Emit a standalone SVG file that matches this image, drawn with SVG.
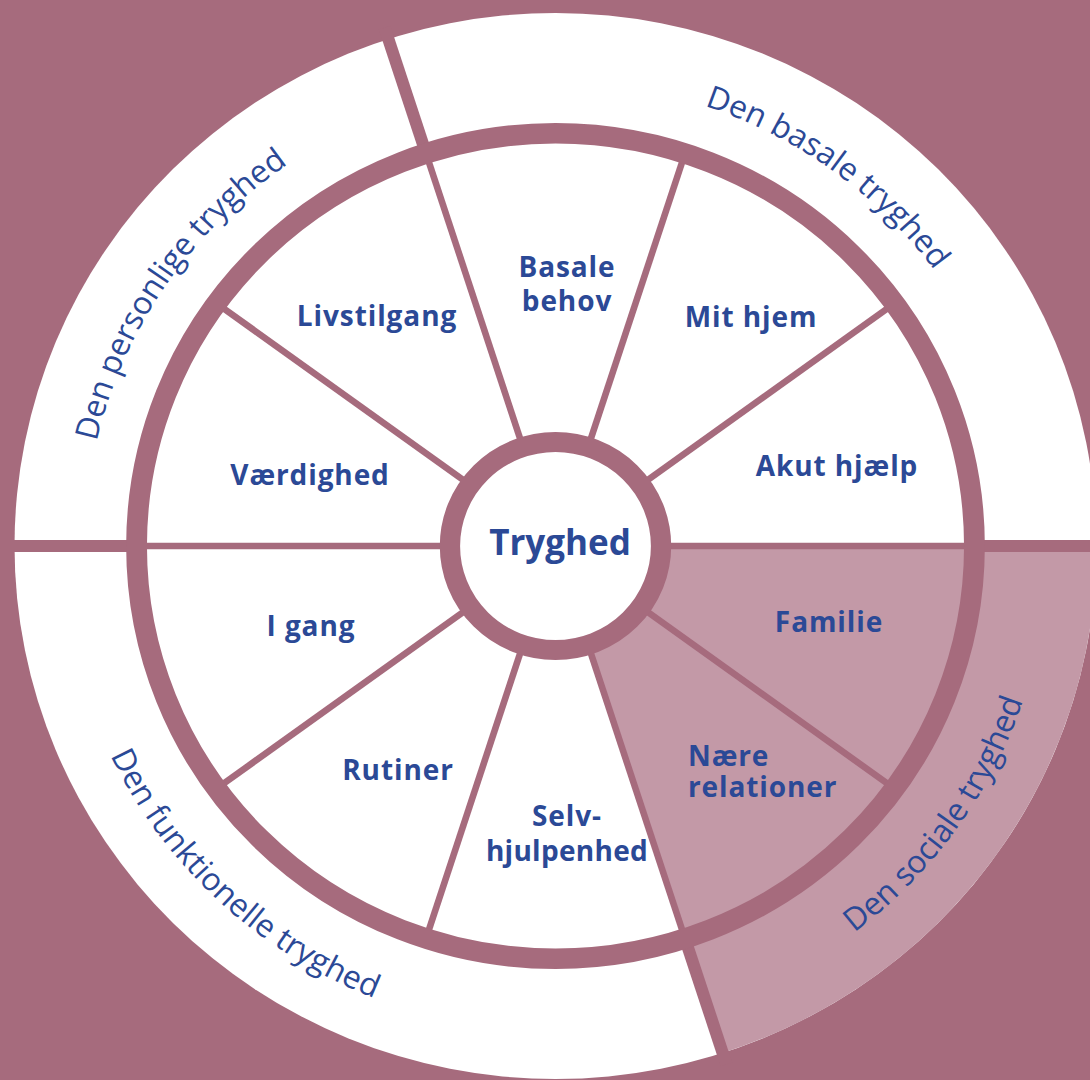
<svg xmlns="http://www.w3.org/2000/svg" width="1090" height="1080" viewBox="0 0 1090 1080">
  <style>
    .bg { fill: #a66b7d; }
    .line { stroke: #a66b7d; fill: none; }
    .spoke { stroke-width: 6.5; }
    .divider { stroke-width: 12; }
    .lbl { font-family: "Open Sans", "Noto Sans", "Liberation Sans", sans-serif; font-weight: 700; font-size: 28px; letter-spacing: 0.9px; fill: #2b4996; text-anchor: middle; }
    .ring-lbl { font-family: "Open Sans", "Noto Sans", "Liberation Sans", sans-serif; font-weight: 400; font-size: 31.5px; fill: #2b4996; text-anchor: middle; }
  </style>
  <defs>
    <!-- baseline arcs for the outer ring labels (wheel-local coordinates) -->
    <path id="arc-basal" d="M -143.38,-441.29 A 464,464 0 0 1 464,0"/>
    <path id="arc-personal" d="M -464,0 A 464,464 0 0 1 -143.38,-441.29"/>
    <path id="arc-social" d="M 150.18,462.21 A 486,486 0 0 0 486,0"/>
    <path id="arc-functional" d="M -486,0 A 486,486 0 0 0 150.18,462.21"/>
  </defs>

  <rect class="bg" x="0" y="0" width="1090" height="1080"/>

  <g id="wheel" transform="translate(555.5,546) scale(1.015,1)">
    <!-- outer ring disc -->
    <circle cx="0" cy="0" r="533" fill="#ffffff"/>
    <!-- highlighted social sector (0°–72°) -->
    <path id="social-sector" d="M 0,0 L 533,0 A 533,533 0 0 1 164.71,506.91 Z" fill="#c399a7"/>

    <g id="connectors" class="line">
      <!-- spokes of the inner wheel every 36° -->
      <line class="spoke" x1="104" y1="0" x2="412" y2="0"/>
      <line class="spoke" x1="84.14" y1="61.13" x2="333.31" y2="242.17"/>
      <line class="spoke" x1="32.14" y1="98.91" x2="127.31" y2="391.84"/>
      <line class="spoke" x1="-32.14" y1="98.91" x2="-127.31" y2="391.84"/>
      <line class="spoke" x1="-84.14" y1="61.13" x2="-333.31" y2="242.17"/>
      <line class="spoke" x1="-104" y1="0" x2="-412" y2="0"/>
      <line class="spoke" x1="-84.14" y1="-61.13" x2="-333.31" y2="-242.17"/>
      <line class="spoke" x1="-32.14" y1="-98.91" x2="-127.31" y2="-391.84"/>
      <line class="spoke" x1="32.14" y1="-98.91" x2="127.31" y2="-391.84"/>
      <line class="spoke" x1="84.14" y1="-61.13" x2="333.31" y2="-242.17"/>
      <!-- dividers of the outer ring -->
      <line class="divider" x1="412" y1="0" x2="545" y2="0"/>
      <line class="divider" x1="127.31" y1="391.84" x2="168.41" y2="518.33"/>
      <line class="divider" x1="-412" y1="0" x2="-545" y2="0"/>
      <line class="divider" x1="-127.31" y1="-391.84" x2="-168.41" y2="-518.33"/>
      <!-- band between inner wheel and outer ring -->
      <circle cx="0" cy="0" r="412.75" stroke-width="20.5"/>
    </g>

    <!-- centre hub -->
    <circle id="hub" cx="0" cy="0" r="104" fill="#ffffff" stroke="#a66b7d" stroke-width="20"/>

    <g id="ring-basal">
      <text class="ring-lbl"><textPath href="#arc-basal" startOffset="50%">Den basale tryghed</textPath></text>
    </g>
    <g id="ring-personal">
      <text class="ring-lbl"><textPath href="#arc-personal" startOffset="47.5%">Den personlige tryghed</textPath></text>
    </g>
    <g id="ring-social">
      <text class="ring-lbl"><textPath href="#arc-social" startOffset="50.5%">Den sociale tryghed</textPath></text>
    </g>
    <g id="ring-functional">
      <text class="ring-lbl"><textPath href="#arc-functional" startOffset="43.5%">Den funktionelle tryghed</textPath></text>
    </g>
  </g>

  <g id="node-tryghed"><text class="lbl" x="560" y="555" style="font-size:35px;letter-spacing:0">Tryghed</text></g>
  <g id="node-basale-behov"><text class="lbl" x="567" y="277">Basale</text><text class="lbl" x="567" y="311">behov</text></g>
  <g id="node-mit-hjem"><text class="lbl" x="751" y="327">Mit hjem</text></g>
  <g id="node-akut-hjaelp"><text class="lbl" x="837" y="476">Akut hjælp</text></g>
  <g id="node-familie"><text class="lbl" x="829" y="632">Familie</text></g>
  <g id="node-naere-relationer"><text class="lbl" x="688" y="766" style="text-anchor:start">Nære</text><text class="lbl" x="688" y="797" style="text-anchor:start">relationer</text></g>
  <g id="node-selvhjulpenhed"><text class="lbl" x="567" y="826">Selv-</text><text class="lbl" x="567" y="861" style="letter-spacing:0.3px">hjulpenhed</text></g>
  <g id="node-rutiner"><text class="lbl" x="398" y="780">Rutiner</text></g>
  <g id="node-i-gang"><text class="lbl" x="311" y="636">I gang</text></g>
  <g id="node-vaerdighed"><text class="lbl" x="310" y="485">Værdighed</text></g>
  <g id="node-livstilgang"><text class="lbl" x="377" y="326">Livstilgang</text></g>
</svg>
